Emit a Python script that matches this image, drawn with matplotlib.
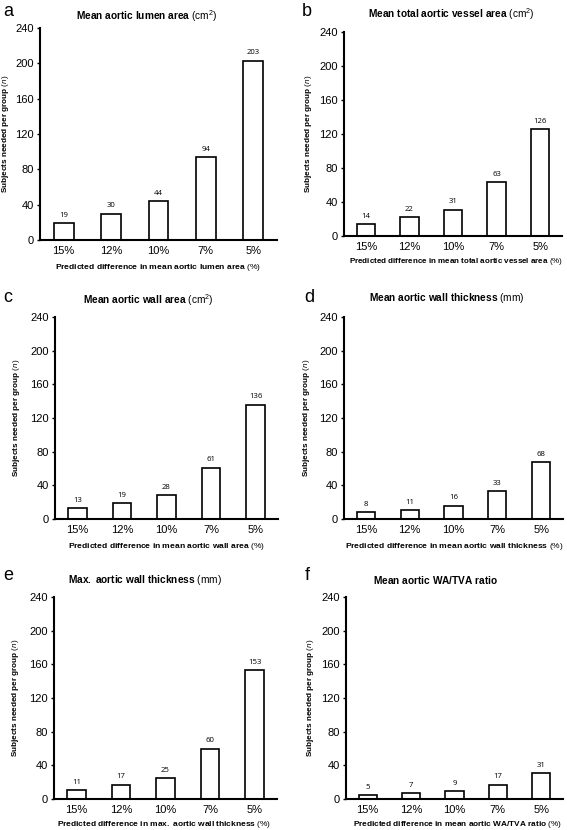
import numpy as np
import matplotlib
matplotlib.use("Agg")
import matplotlib.pyplot as plt

plt.rcParams['font.family'] = ['Liberation Sans', 'DejaVu Sans']
plt.rcParams['mathtext.fontset'] = 'custom'
plt.rcParams['mathtext.rm'] = 'Liberation Sans'
plt.rcParams['mathtext.bf'] = 'Liberation Sans:bold'
plt.rcParams['mathtext.it'] = 'Liberation Sans:italic'

# data
categories = ["15%", "12%", "10%", "7%", "5%"]
lumen_area = [19, 30, 44, 94, 203]
vessel_area = [14, 22, 31, 63, 126]
wall_area = [13, 19, 28, 61, 136]
wall_thick = [8, 11, 16, 33, 68]
max_wall_thick = [11, 17, 25, 60, 153]
wa_tva_ratio = [5, 7, 9, 17, 31]

letters = ["a", "b", "c", "d", "e", "f"]
titles = [
    (r"Mean\ aortic\ lumen\ area", " (cm$^2$)"),
    (r"Mean\ total\ aortic\ vessel\ area", " (cm$^2$)"),
    (r"Mean\ aortic\ wall\ area", " (cm$^2$)"),
    (r"Mean\ aortic\ wall\ thickness", " (mm)"),
    (r"Max.\ aortic\ wall\ thickness", " (mm)"),
    (r"Mean\ aortic\ WA/TVA\ ratio", ""),
]
xlabels = [
    r"Predicted\ difference\ in\ mean\ aortic\ lumen\ area",
    r"Predicted\ difference\ in\ mean\ total\ aortic\ vessel\ area",
    r"Predicted\ difference\ in\ mean\ aortic\ wall\ area",
    r"Predicted\ difference\ in\ mean\ aortic\ wall\ thickness",
    r"Predicted\ difference\ in\ max.\ aortic\ wall\ thickness",
    r"Predicted\ difference\ in\ mean\ aortic\ WA/TVA\ ratio",
]
series = [lumen_area, vessel_area, wall_area, wall_thick, max_wall_thick, wa_tva_ratio]

W, H = 567, 830
fig = plt.figure(figsize=(W / 100, H / 100), dpi=100)

# axes boxes in pixels: left, right, bottom, top
boxes = [(40, 277, 240, 28), (344, 562, 236, 32),
         (55, 278, 519, 317), (344, 563, 519, 317),
         (54, 277, 799, 597), (346, 563, 799, 597)]
title_pos = [(147, 16), (451, 14), (148, 300), (447, 298), (145, 580), (436, 580)]
xlab_pos = [(158, 267), (456, 261), (167, 546), (454, 546), (164, 824), (458, 824)]
xlab_size = [6.1, 5.75, 6.1, 6.1, 6.0, 5.95]
ylab_x = [6, 308, 17, 306, 16, 310]
letter_pos = [(3, 12), (302, 12), (3, 297), (304, 297), (3, 575), (305, 575)]

def fx(px):
    return px / W

def fy(py):
    return 1 - py / H

for i in range(6):
    l, r, b, t = boxes[i]
    ax = fig.add_axes([fx(l), fy(b), (r - l) / W, (b - t) / H])
    x = np.arange(len(categories))
    ax.bar(x, series[i], width=0.42, color="white", edgecolor="black", linewidth=1.2)
    for xi, v in zip(x, series[i]):
        ax.text(xi, v + 5, str(v), ha="center", va="bottom", fontsize=5.6, family="Open Sans")
    ax.set_xlim(-0.5, 4.5)
    ax.set_ylim(0, 240)
    ax.set_yticks(np.arange(0, 241, 40))
    ax.set_xticks(x)
    ax.set_xticklabels(categories)
    ax.tick_params(axis="x", length=0, labelsize=8, pad=4)
    ax.tick_params(axis="y", length=2.5, width=1, labelsize=8, pad=2)
    for s in ["top", "right"]:
        ax.spines[s].set_visible(False)
    for s in ["left", "bottom"]:
        ax.spines[s].set_linewidth(1.5)

    tx, ty = title_pos[i]
    fig.text(fx(tx), fy(ty), r"$\bf{" + titles[i][0] + "}$" + titles[i][1],
             ha="center", va="center", fontsize=7.3)
    lx, ly = xlab_pos[i]
    fig.text(fx(lx), fy(ly), r"$\bf{" + xlabels[i] + "}$ (%)",
             ha="center", va="center", fontsize=xlab_size[i])
    fig.text(fx(ylab_x[i]), fy((b + t) / 2), r"$\bf{Subjects\ needed\ per\ group}$ ($\it{n}$)",
             ha="center", va="center", rotation=90, fontsize=5.9)
    px, py = letter_pos[i]
    fig.text(fx(px), fy(py), letters[i], ha="left", va="center", fontsize=13)

fig.savefig("out.png", dpi=100)
